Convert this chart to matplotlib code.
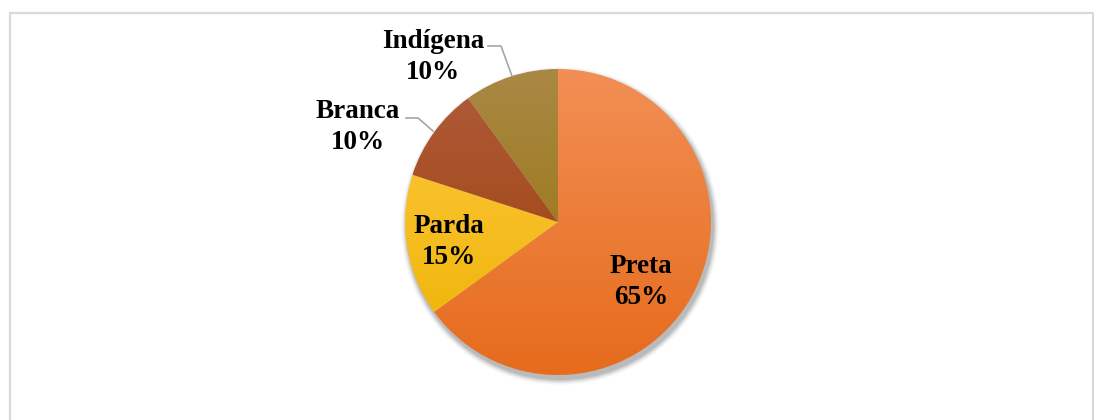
import numpy as np
import matplotlib
matplotlib.use("Agg")
from matplotlib import pyplot as plt
from matplotlib.colors import LinearSegmentedColormap
from matplotlib.patches import Circle, Rectangle

categories = ["Preta", "Parda", "Branca", "Indígena"]
values = [65, 15, 10, 10]
# (top colour, bottom colour) of each wedge gradient
top_colors = ["#F28F55", "#FFCA45", "#B05C3C", "#A98845"]
bottom_colors = ["#E66B1C", "#EDB200", "#9B3D02", "#957000"]

W, H = 1094, 420
plt.rcParams["font.family"] = ["Liberation Serif", "DejaVu Serif"]
fig = plt.figure(figsize=(W / 100, H / 100), dpi=100)
ax = fig.add_axes([0, 0, 1, 1])
ax.set_xlim(0, W)
ax.set_ylim(0, H)
ax.set_aspect("equal")
ax.axis("off")

# chart area border
ax.add_patch(Rectangle((9.5, -5), 1083, 412, fill=False, edgecolor="#D9D9D9", linewidth=1.6))

cx, cy, r = 558, 198, 153

# soft drop shadow
for i, a in enumerate(np.linspace(0.08, 0.02, 6)):
    ax.add_patch(Circle((cx + 2, cy - 4), r + 1 + i, color="black", alpha=a, linewidth=0, zorder=1))

wedges, _ = ax.pie(values, center=(cx, cy), radius=r, startangle=90, counterclock=False,
                   wedgeprops=dict(linewidth=0))
for w, c0, c1 in zip(wedges, top_colors, bottom_colors):
    w.set_facecolor("none")
    w.set_zorder(3)
    cmap = LinearSegmentedColormap.from_list("g", [c0, c1])
    grad = np.linspace(0, 1, 256).reshape(-1, 1)
    im = ax.imshow(grad, cmap=cmap, extent=(cx - r, cx + r, cy - r, cy + r),
                   origin="upper", aspect="auto", zorder=2)
    im.set_clip_path(w)
ax.set_xlim(0, W)
ax.set_ylim(0, H)

fs = 19.5
ls = 1.32
lbl = [f"{c}\n{v}%" for c, v in zip(categories, values)]
ax.text(641, H - 282, lbl[0], ha="center", va="center", fontsize=fs, fontweight="bold", linespacing=ls, zorder=5)
ax.text(449, H - 242, lbl[1], ha="center", va="center", fontsize=fs, fontweight="bold", linespacing=ls, zorder=5)
ax.text(358, H - 127, lbl[2], ha="center", va="center", fontsize=fs, fontweight="bold", linespacing=ls, zorder=5)
ax.text(433, H - 57, lbl[3], ha="center", va="center", fontsize=fs, fontweight="bold", linespacing=ls, zorder=5)

# leader lines
ax.plot([406, 418, 433], [H - 118, H - 118, H - 131], color="#A6A6A6", linewidth=1.2, zorder=4)
ax.plot([488, 501, 512], [H - 46, H - 46, H - 76], color="#A6A6A6", linewidth=1.2, zorder=4)

fig.savefig("out.png", dpi=100)
